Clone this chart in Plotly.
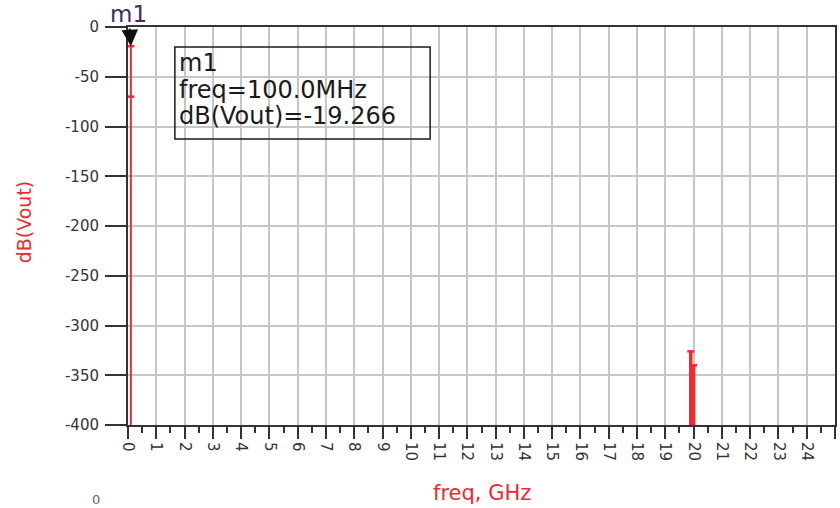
import plotly.graph_objects as go

# ---- data ----
spike_freq_ghz = [0.1, 19.9, 20.0]
spike_db = [-19.266, -326.0, -340.0]
spike_width = [2, 3.5, 3.5]
secondary_freq_ghz = [0.1]
secondary_db = [-70.0]
floor_db = -400

x_tick_vals = list(range(0, 26))
x_tick_text = [str(v) for v in x_tick_vals]
y_tick_vals = [0, -50, -100, -150, -200, -250, -300, -350, -400]
y_tick_text = ["0", "-50", "-100", "-150", "-200", "-250", "-300", "-350", "-400"]

marker_name = "m1"
marker_freq_label = "freq=100.0MHz"
marker_idx = 0

RED = "#ee2a33"
DARK = "#333333"
GRID = "#c6c6c6"
FONT = "DejaVu Sans"

fig = go.Figure()

# spikes drawn as vertical lines from the floor
for f, v, w in zip(spike_freq_ghz, spike_db, spike_width):
    fig.add_trace(go.Scatter(
        x=[f, f], y=[floor_db, v], mode="lines",
        line=dict(color=RED, width=w), showlegend=False, hoverinfo="skip"))

# small serifs at the top of each spike
fig.add_trace(go.Scatter(
    x=spike_freq_ghz + secondary_freq_ghz, y=spike_db + secondary_db,
    mode="markers",
    marker=dict(symbol="line-ew", size=5, line=dict(color=RED, width=2.5)),
    showlegend=False, hoverinfo="skip"))

mf = spike_freq_ghz[marker_idx]
mv = spike_db[marker_idx]

fig.add_annotation(
    x=mf, y=mv, xref="x", yref="y", text=marker_name,
    showarrow=True, ax=-2, ay=-32, arrowhead=2, arrowsize=1.5, arrowwidth=2.2,
    arrowcolor="#111111", standoff=0,
    font=dict(family=FONT, size=23, color="#3b2d5c"))

# marker readout box
fig.add_shape(type="rect", xref="paper", yref="paper",
              x0=(175 - 128) / 709, x1=(431 - 128) / 709,
              y0=(425 - 139) / 398, y1=(425 - 47) / 398,
              line=dict(color="#1a1a1a", width=1.5), fillcolor="rgba(0,0,0,0)",
              layer="above")
box_lines = [marker_name, marker_freq_label, "dB(Vout)=%.3f" % mv]
for i, (txt, py) in enumerate(zip(box_lines, [63, 90, 116])):
    fig.add_annotation(x=(177 - 128) / 709, y=(425 - py) / 398, xref="paper", yref="paper",
                       xanchor="left", yanchor="middle", showarrow=False, text=txt,
                       font=dict(family=FONT, size=24, color="#1a1a1a"))

# axis titles
fig.add_annotation(x=(483 - 128) / 709, y=(425 - 493) / 398, xref="paper", yref="paper",
                   xanchor="center", yanchor="middle",
                   showarrow=False, text="freq, GHz",
                   font=dict(family=FONT, size=21, color=RED))
fig.add_annotation(x=(24 - 128) / 709, y=(425 - 222) / 398, xref="paper", yref="paper",
                   xanchor="center", yanchor="middle",
                   showarrow=False, text="dB(Vout)", textangle=-90,
                   font=dict(family=FONT, size=19, color=RED))
fig.add_annotation(x=(96 - 128) / 709, y=(425 - 499) / 398, xref="paper", yref="paper",
                   xanchor="center", yanchor="middle",
                   showarrow=False, text="0",
                   font=dict(family=FONT, size=13, color="#666666"))

fig.update_layout(
    width=840, height=508,
    margin=dict(l=128, r=3, t=27, b=83),
    paper_bgcolor="white", plot_bgcolor="white",
    showlegend=False,
    xaxis=dict(range=[0, 25], tickmode="array", tickvals=x_tick_vals, ticktext=x_tick_text,
               tickangle=90, ticks="outside", ticklen=12, tickwidth=2, tickcolor=DARK,
               showgrid=True, gridcolor=GRID, gridwidth=1.5, zeroline=False,
               showline=True, linecolor=DARK, linewidth=2, mirror=True,
               tickfont=dict(family=FONT, size=15, color=DARK),
               minor=dict(dtick=0.5, ticks="outside", ticklen=6, tickwidth=2,
                          tickcolor=DARK, showgrid=False)),
    yaxis=dict(range=[-400, 0], tickmode="array", tickvals=y_tick_vals, ticktext=y_tick_text,
               ticks="outside", ticklen=21, tickwidth=2, tickcolor=DARK,
               ticklabelstandoff=3,
               showgrid=True, gridcolor=GRID, gridwidth=1.5, zeroline=False,
               showline=True, linecolor=DARK, linewidth=2, mirror=True,
               tickfont=dict(family=FONT, size=15, color=DARK)),
)

fig.write_html("out.html")
